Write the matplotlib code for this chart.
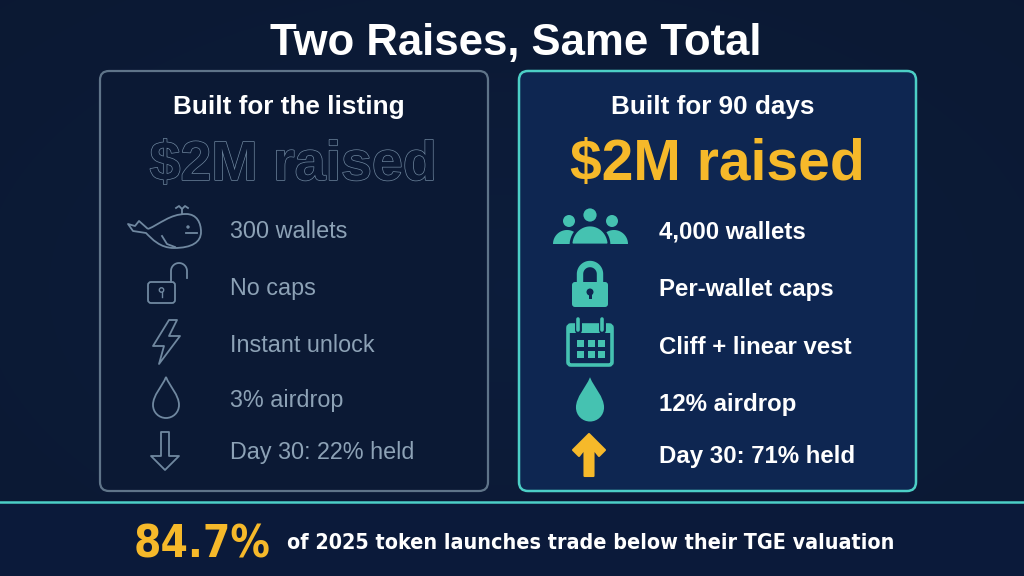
import numpy as np
import matplotlib.pyplot as plt
import matplotlib.patheffects as pe
from matplotlib.patches import FancyBboxPatch, PathPatch, Polygon, Circle, Rectangle
from matplotlib.path import Path

W, H = 1024, 576

title = "Two Raises, Same Total"
left_heading = "Built for the listing"
right_heading = "Built for 90 days"
raised_label = "$2M raised"
left_rows = ["300 wallets", "No caps", "Instant unlock", "3% airdrop", "Day 30: 22% held"]
right_rows = ["4,000 wallets", "Per-wallet caps", "Cliff + linear vest", "12% airdrop", "Day 30: 71% held"]
stat_value = "84.7%"
stat_text = "of 2025 token launches trade below their TGE valuation"

BG = "#0a1833"
LEFT_FACE = "#0b1934"
LEFT_EDGE = "#5f7489"
RIGHT_FACE = "#0e2651"
TEAL = "#45c2b1"
TEAL_EDGE = "#4ccfc6"
YELLOW = "#f6b92a"
GRAY_TEXT = "#8da2b6"
OUTLINE = "#7088a0"

plt.rcParams["font.family"] = ["Liberation Sans", "DejaVu Sans"]

fig = plt.figure(figsize=(10.24, 5.76), dpi=100)
ax = fig.add_axes([0, 0, 1, 1])
ax.set_xlim(0, W)
ax.set_ylim(H, 0)
ax.axis("off")

# soft vignette background
yy, xx = np.mgrid[0:H, 0:W]
r = np.sqrt(((xx - W / 2) / (W / 2)) ** 2 + ((yy - H / 2) / (H / 2)) ** 2)
shade = np.clip(1 - 0.35 * r, 0, 1)
base = np.array([0.047, 0.105, 0.215])
img = base[None, None, :] * (0.78 + 0.3 * shade[..., None])
ax.imshow(img, extent=[0, W, H, 0], zorder=0, aspect="auto")

# bottom band + separator
ax.add_patch(Rectangle((0, 503), W, 73, color="#0b1a3a", zorder=1))
ax.plot([0, W], [502, 502], color=TEAL_EDGE, lw=1.8, zorder=2)

# panels
ax.add_patch(FancyBboxPatch((100, 71), 388, 420, boxstyle="round,pad=0,rounding_size=9",
                            fc=LEFT_FACE, ec=LEFT_EDGE, lw=1.6, zorder=2))
ax.add_patch(FancyBboxPatch((519, 71), 397, 420, boxstyle="round,pad=0,rounding_size=9",
                            fc=RIGHT_FACE, ec=TEAL_EDGE, lw=1.8, zorder=2))

ax.text(516, 55, title, ha="center", va="baseline", color="white",
        fontsize=31.5, fontweight="bold", zorder=5)

# headings
ax.text(289, 114, left_heading, ha="center", va="baseline", color="white",
        fontsize=18.8, fontweight="bold", zorder=5)
ax.text(713, 114, right_heading, ha="center", va="baseline", color="white",
        fontsize=18.8, fontweight="bold", zorder=5)

ax.text(293, 180, raised_label, ha="center", va="baseline", color=LEFT_FACE,
        fontsize=40, fontweight="bold", zorder=5,
        path_effects=[pe.withStroke(linewidth=1.0, foreground=OUTLINE)])
ax.text(717, 180, raised_label, ha="center", va="baseline", color=YELLOW,
        fontsize=41, fontweight="bold", zorder=5)

left_base = [238, 295, 352, 407, 459]
right_base = [238, 296, 354, 411, 463]
for label, yb in zip(left_rows, left_base):
    ax.text(230, yb, label, ha="left", va="baseline", color=GRAY_TEXT,
            fontsize=16.8, zorder=5)
for label, yb in zip(right_rows, right_base):
    ax.text(659, yb, label, ha="left", va="baseline", color="white",
            fontsize=17.3, fontweight="bold", zorder=5)


def bez_path(cx, cy, pts, s=1.0):
    verts = [(cx + s * x, cy + s * y) for x, y in pts]
    codes = [Path.MOVETO] + [Path.CURVE4] * (len(pts) - 1)
    return Path(verts + [verts[0]], codes + [Path.CLOSEPOLY])


DROP = [(0, -22), (4, -12), (13, -4), (13, 6), (13, 13.5), (7, 19), (0, 19),
        (-7, 19), (-13, 13.5), (-13, 6), (-13, -4), (-4, -12), (0, -22)]

# ---- left icons (outline) ----
lw_o = 1.3
# whale
wx, wy = 166, 230
whale = [(-18, -1), (-6, -6), (4, -16), (20, -16), (31, -16), (35, -7), (35, 2),
         (35, 12), (26, 18), (8, 18), (-6, 18), (-14, 9), (-20, 3)]
verts = [(wx + x, wy + y) for x, y in whale]
tail = [(-33, 1), (-38, -6), (-31, -4), (-27, -9), (-18, -1)]
verts += [(wx + x, wy + y) for x, y in tail]
codes = [Path.MOVETO] + [Path.CURVE4] * 12 + [Path.LINETO] * 5
ax.add_patch(PathPatch(Path(verts, codes), fill=False, ec=OUTLINE, lw=lw_o, zorder=5,
                       joinstyle="round"))
ax.plot([wx + 20, wx + 31], [wy + 3, wy + 3], color=OUTLINE, lw=lw_o, zorder=5)
ax.add_patch(Circle((wx + 22, wy - 3), 1.0, color=OUTLINE, zorder=5))
ax.plot([wx - 4, wx + 1, wx + 9], [wy + 6, wy + 14, wy + 17], color=OUTLINE, lw=lw_o, zorder=5)
ax.plot([wx + 16, wx + 16], [wy - 16, wy - 21], color=OUTLINE, lw=lw_o, zorder=5)
ax.plot([wx + 10, wx + 13, wx + 16, wx + 19, wx + 22], [wy - 22, wy - 24, wy - 21, wy - 24, wy - 22],
        color=OUTLINE, lw=lw_o, zorder=5)

# unlocked padlock
ax.add_patch(FancyBboxPatch((148, 282), 27, 21, boxstyle="round,pad=0,rounding_size=3",
                            fill=False, ec=OUTLINE, lw=lw_o, zorder=5))
t = np.linspace(np.pi, 2 * np.pi, 30)
sx = np.r_[171, 179 + 8 * np.cos(t), 187]
sy = np.r_[282, 271 + 8 * np.sin(t), 278]
ax.plot(sx, sy, color=OUTLINE, lw=lw_o, zorder=5)
ax.add_patch(Circle((161.5, 290), 2.2, fill=False, ec=OUTLINE, lw=1.0, zorder=5))
ax.plot([161.5, 161.5], [292, 297], color=OUTLINE, lw=1.0, zorder=5)

# lightning
bolt = [(3, -22), (-13, 4), (-2, 4), (-7, 22), (14, -6), (3, -6), (11, -22)]
ax.add_patch(Polygon([(166 + x, 342 + y) for x, y in bolt], closed=True, fill=False,
                     ec=OUTLINE, lw=lw_o, zorder=5, joinstyle="round"))

# drop outline
ax.add_patch(PathPatch(bez_path(166, 399, DROP), fill=False, ec=OUTLINE, lw=lw_o, zorder=5))

# down arrow outline
darrow = [(-4, -19), (4, -19), (4, 5), (14, 5), (0, 19), (-14, 5), (-4, 5)]
ax.add_patch(Polygon([(165 + x, 451 + y) for x, y in darrow], closed=True, fill=False,
                     ec=OUTLINE, lw=lw_o, zorder=5, joinstyle="round"))


# ---- right icons (filled) ----
def half_ellipse(cx, cy, w, h):
    tt = np.linspace(0, np.pi, 40)
    return np.c_[cx + w / 2 * np.cos(tt), cy - h * np.sin(tt)]


# people group
for hx, bx in [(569, 567), (612, 614)]:
    ax.add_patch(Polygon(half_ellipse(bx, 244, 28, 14), closed=True, fc=TEAL, ec="none", zorder=5))
    ax.add_patch(Circle((hx, 221), 6, fc=TEAL, ec="none", zorder=5))
ax.add_patch(Polygon(half_ellipse(590, 245, 38, 20), closed=True, fc=TEAL, ec=RIGHT_FACE,
                     lw=2, zorder=6))
ax.add_patch(Circle((590, 215), 8, fc=TEAL, ec=RIGHT_FACE, lw=2, zorder=6))

# padlock
ax.add_patch(FancyBboxPatch((572, 282), 36, 25, boxstyle="round,pad=0,rounding_size=3",
                            fc=TEAL, ec="none", zorder=5))
sx = np.r_[580, 590 + 10 * np.cos(t), 600]
sy = np.r_[283, 274 + 10 * np.sin(t), 283]
ax.plot(sx, sy, color=TEAL, lw=4.6, zorder=5)
ax.add_patch(Circle((590, 292), 3.5, fc=RIGHT_FACE, ec="none", zorder=6))
ax.add_patch(Rectangle((588.5, 292), 3, 7, fc=RIGHT_FACE, ec="none", zorder=6))

# calendar
ax.add_patch(FancyBboxPatch((568, 325), 44, 40, boxstyle="round,pad=0,rounding_size=3",
                            fill=False, ec=TEAL, lw=2.6, zorder=5))
ax.add_patch(Rectangle((568, 325), 44, 8, fc=TEAL, ec="none", zorder=5))
for rx in (578, 602):
    ax.plot([rx, rx], [319, 330], color=RIGHT_FACE, lw=5, solid_capstyle="round", zorder=6)
    ax.plot([rx, rx], [319, 330], color=TEAL, lw=2.6, solid_capstyle="round", zorder=7)
for gy in (340, 351):
    for gx in (577, 587.5, 598):
        ax.add_patch(Rectangle((gx, gy), 7, 7, fc=TEAL, ec="none", zorder=5))

# filled drop
ax.add_patch(PathPatch(bez_path(590, 401, DROP, 1.08), fc=TEAL, ec="none", zorder=5))

# up arrow
uarrow = [(0, -21), (16, -5), (10, 1), (4.5, -6), (4.5, 21), (-4.5, 21), (-4.5, -6), (-10, 1), (-16, -5)]
ax.add_patch(Polygon([(589 + x, 455 + y) for x, y in uarrow], closed=True, fc=YELLOW,
                     ec=YELLOW, lw=1.5, joinstyle="round", zorder=5))

# bottom stat, condensed look: fit widths to the reference
stat_big = ax.text(270, 558, stat_value, ha="right", va="baseline", color=YELLOW,
                   fontsize=40, fontweight="bold", family=["DejaVu Sans"],
                   fontstretch="condensed", zorder=5)
stat_small = ax.text(287, 549, stat_text, ha="left", va="baseline", color="white",
                     fontsize=19, fontweight="bold", family=["DejaVu Sans"],
                     fontstretch="condensed", zorder=5)
fig.canvas.draw()
renderer = fig.canvas.get_renderer()
for txt, target in [(stat_big, 137), (stat_small, 605)]:
    width = txt.get_window_extent(renderer).width
    txt.set_fontsize(txt.get_fontsize() * target / width)

fig.savefig("out.png", dpi=100, facecolor=BG)
